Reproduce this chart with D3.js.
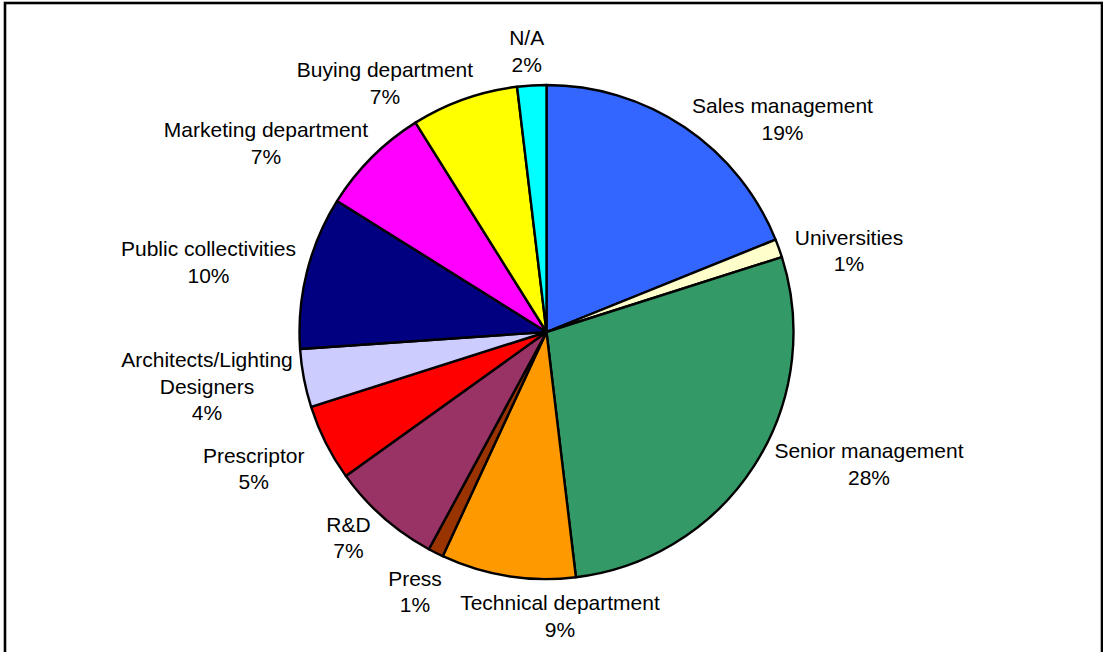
<!DOCTYPE html>
<html>
<head>
<meta charset="utf-8">
<script src="https://cdn.jsdelivr.net/npm/d3@7"></script>
<style>
  html, body { margin: 0; padding: 0; background: #fff; }
  svg { display: block; }
</style>
</head>
<body>
<svg id="chart" width="1103" height="652"></svg>
<script>
// ---- data ----
const categories = [
  "Sales management", "Universities", "Senior management", "Technical department",
  "Press", "R&D", "Prescriptor", "Architects/Lighting Designers",
  "Public collectivities", "Marketing department", "Buying department", "N/A"
];
const values = [18.9, 1.2, 28.0, 8.8, 1.0, 7.2, 5.0, 3.8, 10.0, 7.2, 7.0, 1.9];
// label lines (category name split as in the picture)
const labelLines = [
  ["Sales management"], ["Universities"], ["Senior management"], ["Technical department"],
  ["Press"], ["R&D"], ["Prescriptor"], ["Architects/Lighting", "Designers"],
  ["Public collectivities"], ["Marketing department"], ["Buying department"], ["N/A"]
];
const colors = [
  "#3366FF", "#FFFFCC", "#339966", "#FF9900", "#993300", "#993366",
  "#FF0000", "#CCCCFF", "#000080", "#FF00FF", "#FFFF00", "#00FFFF"
];

// ---- layout ----
const W = 1103, H = 652;
const cx = 546.5, cy = 332, R = 247;
// label anchor (centre x, first baseline) relative to pie centre
const labelAnchors = [
  [236, -219], [302.5, -87.5], [322.5, 126], [13.5, 278],
  [-131.5, 253.7], [-198, 199.7], [-292.8, 130.7], [-339.5, 35.3],
  [-338, -76], [-280.5, -195], [-161.5, -255], [-19.8, -287]
];
const lineH = 26.5;
const fontSize = 21;

const svg = d3.select("#chart");

svg.append("rect")
  .attr("x", 5).attr("y", 3)
  .attr("width", 1097).attr("height", 700)
  .attr("fill", "#fff")
  .attr("stroke", "#000").attr("stroke-width", 2.6);

const pie = d3.pie().sort(null).value(d => d)(values);
const arc = d3.arc().innerRadius(0).outerRadius(R);

const g = svg.append("g").attr("transform", `translate(${cx},${cy})`);

g.selectAll("path.slice")
  .data(pie)
  .join("path")
  .attr("class", "slice")
  .attr("d", arc)
  .attr("fill", (d, i) => colors[i])
  .attr("stroke", "#000")
  .attr("stroke-width", 2.4)
  .attr("stroke-linejoin", "round");

const labels = g.selectAll("text.lbl")
  .data(pie)
  .join("text")
  .attr("class", "lbl")
  .attr("text-anchor", "middle")
  .attr("font-family", "'Liberation Sans', Arial, sans-serif")
  .attr("font-size", fontSize)
  .attr("fill", "#000")
  .attr("x", (d, i) => labelAnchors[i][0])
  .attr("y", (d, i) => labelAnchors[i][1]);

labels.each(function(d, i) {
  const t = d3.select(this);
  const lines = labelLines[i].concat([Math.round(values[i]) + "%"]);
  lines.forEach((ln, k) => {
    t.append("tspan")
      .attr("x", labelAnchors[i][0])
      .attr("dy", k === 0 ? 0 : lineH)
      .text(ln);
  });
});
</script>
</body>
</html>
